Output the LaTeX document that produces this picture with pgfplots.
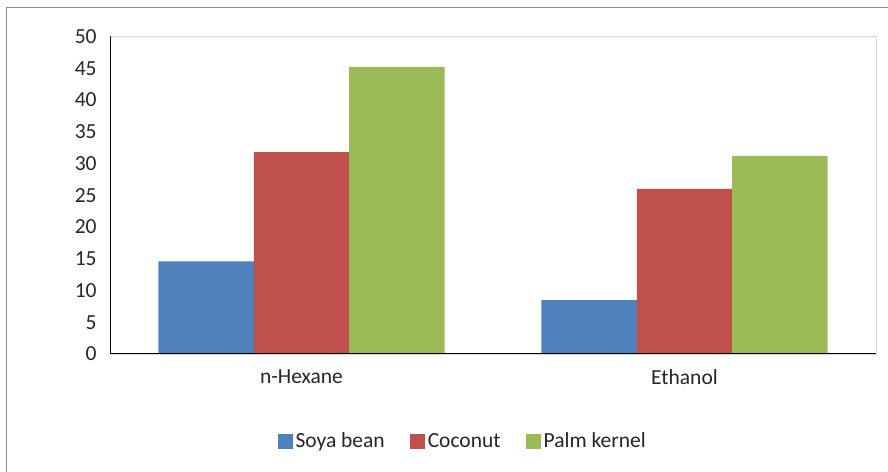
\documentclass[border=0pt]{standalone}
\usepackage{pgfplots}
\pgfplotsset{compat=1.18}
\usepackage{fontspec}
\setmainfont{Carlito}
\definecolor{cblue}{HTML}{4F81BD}
\definecolor{cred}{HTML}{C0504D}
\definecolor{cgreen}{HTML}{9BBB59}
\definecolor{txt}{HTML}{262626}
\begin{document}
\fontsize{21.5bp}{25bp}\selectfont
\begin{tikzpicture}
\path[use as bounding box] (0bp,0bp) rectangle (888bp,472bp);
\draw[color=black!45, line width=1bp] (6.5bp,-20bp) -- (6.5bp,464.5bp) -- (900bp,464.5bp);
\begin{axis}[
  at={(110bp,118bp)}, anchor=south west,
  scale only axis, width=766bp, height=317.5bp,
  ymin=0, ymax=50, ytick={0,5,...,50},
  xmin=-0.5, xmax=1.5, xtick={0,1}, xticklabels={n-Hexane,Ethanol},
  ybar=0pt, bar width=0.249,
  axis line style={color=black!15, line width=1bp},
  major tick length=0pt,
  tick label style={color=txt, font=\fontsize{21.5bp}{25bp}\selectfont},
  /pgf/number format/assume math mode=true,
  yticklabel style={xshift=-6bp},
  xticklabel style={yshift=-8bp},
  legend style={at={(0.461,-0.277)}, anchor=center, draw=none, legend columns=3,
    font=\fontsize{21.5bp}{25bp}\selectfont, text=txt,
    /tikz/every even column/.append style={column sep=22bp},
    nodes={inner xsep=3bp}},
  legend image code/.code={\fill[#1] (0bp,-7.5bp) rectangle (15bp,7.5bp);},
]
\addplot[fill=cblue, draw=none] coordinates {(0,14.6) (1,8.5)};
\addplot[fill=cred, draw=none] coordinates {(0,31.8) (1,26.0)};
\addplot[fill=cgreen, draw=none] coordinates {(0,45.2) (1,31.2)};
\legend{Soya bean, Coconut, Palm kernel}
\draw[black, line width=1.2bp] (rel axis cs:0,1) -- (rel axis cs:0,0) -- (rel axis cs:1,0);
\end{axis}
\end{tikzpicture}
\end{document}
